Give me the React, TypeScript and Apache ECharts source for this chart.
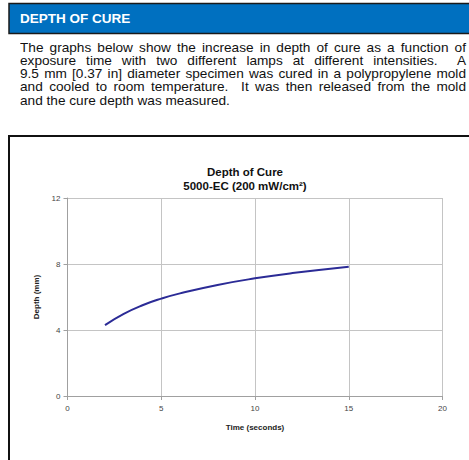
import React, { useEffect, useRef } from "react";
import * as echarts from "echarts";

const headerText = "DEPTH OF CURE";
const paragraphLines = [
  "The graphs below show the increase in depth of cure as a function of",
  "exposure time with two different lamps at different intensities.  A",
  "9.5 mm [0.37 in] diameter specimen was cured in a polypropylene mold",
  "and cooled to room temperature.  It was then released from the mold",
  "and the cure depth was measured.",
];
const chartTitle = "Depth of Cure";
const chartSubtitle = "5000-EC (200 mW/cm²)";
const xName = "Time (seconds)";
const yName = "Depth (mm)";

const timeSeconds = [2, 3, 4, 5, 6, 8, 10, 12, 15];
const depthMm = [4.3, 4.98, 5.5, 5.9, 6.22, 6.73, 7.13, 7.45, 7.84];

const FONT = "'Liberation Sans', Arial, Helvetica, sans-serif";
const STRETCH = 1.1;

export default function App() {
  const ref = useRef<HTMLDivElement>(null);

  useEffect(() => {
    if (!ref.current) return;
    const chart = echarts.init(ref.current, null, { renderer: "svg" });
    chart.setOption({
      animation: false,
      backgroundColor: "#ffffff",
      textStyle: { fontFamily: FONT },
      title: {
        text: chartTitle + "\n" + chartSubtitle,
        left: 240,
        top: 160,
        textAlign: "center",
        textStyle: {
          fontFamily: FONT,
          fontSize: 11.5,
          fontWeight: "bold",
          color: "#111111",
          lineHeight: 14,
        },
      },
      graphic: [
        {
          type: "rect",
          shape: { x: 9, y: 3.5, width: 480, height: 30 },
          style: { fill: "#0070C0", stroke: "#1a1a1a", lineWidth: 1.5 },
          z: 1,
        },
        {
          type: "text",
          x: 20,
          y: 18.5,
          style: {
            text: headerText,
            fill: "#ffffff",
            font: "bold 13.5px " + FONT,
            verticalAlign: "middle",
          },
          z: 2,
        },
        {
          type: "rect",
          shape: { x: 9, y: 136, width: 480, height: 340 },
          style: { fill: "none", stroke: "#111111", lineWidth: 2 },
          z: 1,
        },
      ],
      grid: { left: 67.5, right: 26.5, top: 198, bottom: 64 },
      xAxis: {
        type: "value",
        min: 0,
        max: 20,
        interval: 5,
        name: xName,
        nameLocation: "middle",
        nameGap: 27,
        nameTextStyle: { fontFamily: FONT, fontSize: 8, fontWeight: "bold", color: "#222" },
        axisLine: { show: true, lineStyle: { color: "#a0a0a0", width: 1 } },
        axisTick: { show: true, length: 4, lineStyle: { color: "#a0a0a0" } },
        axisLabel: { fontFamily: FONT, fontSize: 8, color: "#444", margin: 8 },
        splitLine: { show: true, lineStyle: { color: "#c4c4c4", width: 1 } },
      },
      yAxis: {
        type: "value",
        min: 0,
        max: 12,
        interval: 4,
        name: yName,
        nameLocation: "middle",
        nameGap: 26,
        nameTextStyle: { fontFamily: FONT, fontSize: 8, fontWeight: "bold", color: "#222" },
        axisLine: { show: true, lineStyle: { color: "#a0a0a0", width: 1 } },
        axisTick: { show: true, length: 4, lineStyle: { color: "#a0a0a0" } },
        axisLabel: { fontFamily: FONT, fontSize: 8, color: "#444", margin: 7 },
        splitLine: { show: true, lineStyle: { color: "#c4c4c4", width: 1 } },
      },
      series: [
        {
          type: "line",
          data: timeSeconds.map((t, i) => [t, depthMm[i]]),
          smooth: true,
          showSymbol: false,
          lineStyle: { color: "#2b2b96", width: 2 },
          itemStyle: { color: "#2b2b96" },
        },
      ],
    });
    return () => chart.dispose();
  }, []);

  return (
    <div style={{ position: "absolute", left: 0, top: 0, width: 469, height: 460, overflow: "hidden", background: "#fff" }}>
      <div ref={ref} style={{ position: "absolute", left: 0, top: 0, width: 469, height: 460 }} />
      <div
        style={{
          position: "absolute",
          left: 20,
          top: 41.5,
          width: 446 / STRETCH,
          transform: `scaleX(${STRETCH})`,
          transformOrigin: "left top",
          fontFamily: FONT,
          fontSize: "12.4px",
          lineHeight: "13.3px",
          color: "#111",
          pointerEvents: "none",
        }}
      >
        {paragraphLines.map((line, i) => (
          <div
            key={i}
            style={{
              whiteSpace: "pre",
              textAlign: "justify",
              textAlignLast: i < paragraphLines.length - 1 ? "justify" : "left",
            }}
          >
            {line}
          </div>
        ))}
      </div>
    </div>
  );
}
